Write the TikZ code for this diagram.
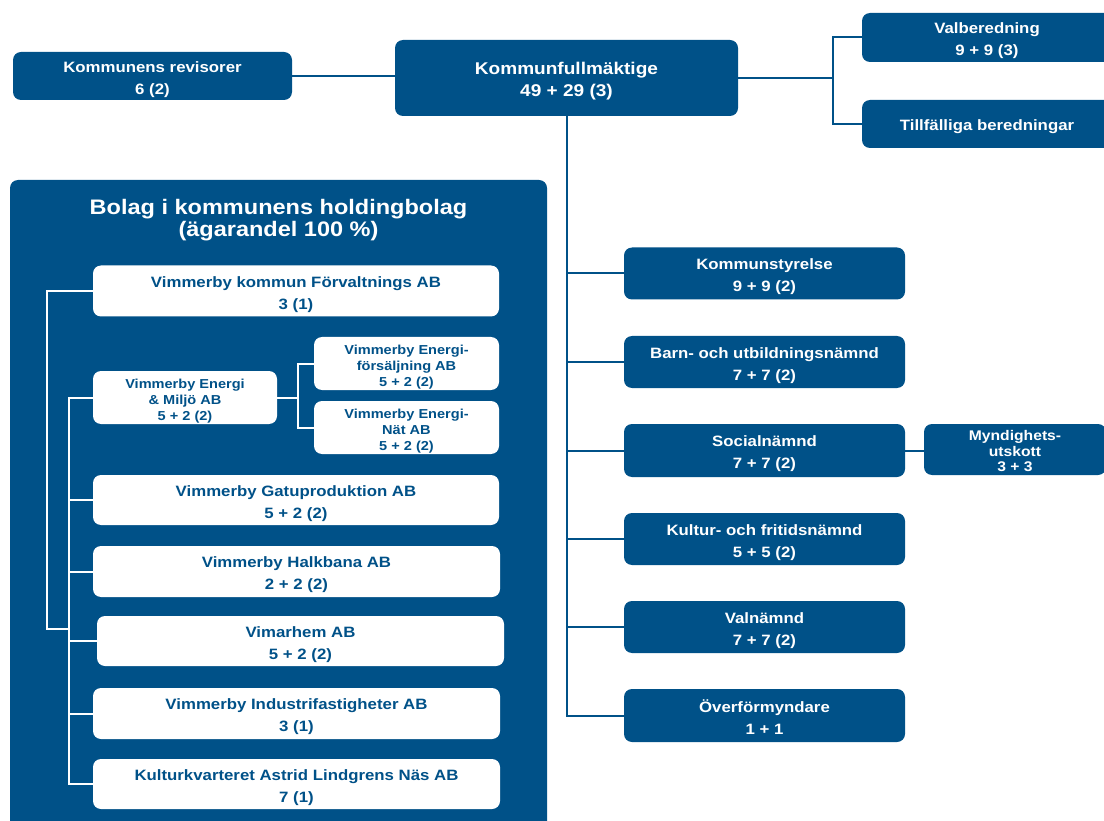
\documentclass[tikz,border=0pt]{standalone}
\usepackage{fontspec}
\setmainfont{Liberation Sans}[FakeStretch=1.12]
\definecolor{kblue}{RGB}{0,81,136}
\newcommand{\kst}[1]{\rule{0pt}{#1pt}}
\begin{document}
\begin{tikzpicture}[x=1pt,y=-1pt,
  box/.style={rectangle,rounded corners=8pt,inner sep=0pt,align=center,
    font=\bfseries\fontsize{15}{22}\selectfont},
  dbox/.style={box,fill=kblue,text=white},
  wbox/.style={box,fill=white,text=kblue},
  small/.style={font=\bfseries\fontsize{13}{16}\selectfont},
  conn/.style={draw=kblue,line width=2pt},
  wconn/.style={draw=white,line width=2pt}]
\useasboundingbox[fill=white] (0,0) rectangle (1104,821);
% top row
\node[dbox,minimum width=279pt,minimum height=48pt] (rev) at (152.5,76) {\kst{18}Kommunens revisorer\\6 (2)};
\node[dbox,minimum width=343pt,minimum height=76pt,font=\bfseries\fontsize{17}{22}\selectfont] (kf) at (566.5,78) {\kst{18.5}Kommunfullmäktige\\49 + 29 (3)};
\node[dbox,minimum width=250pt,minimum height=49pt] (val) at (987,37.5) {\kst{18}Valberedning\\9 + 9 (3)};
\node[dbox,minimum width=250pt,minimum height=48pt] (till) at (987,124) {\kst{17}Tillfälliga beredningar};
% right column
\node[dbox,minimum width=281pt,minimum height=52pt] (ks) at (764.5,273.5) {\kst{18}Kommunstyrelse\\9 + 9 (2)};
\node[dbox,minimum width=281pt,minimum height=52pt] (bun) at (764.5,362) {\kst{18}Barn- och utbildningsnämnd\\7 + 7 (2)};
\node[dbox,minimum width=281pt,minimum height=53pt] (soc) at (764.5,450.5) {\kst{18}Socialnämnd\\7 + 7 (2)};
\node[dbox,minimum width=182pt,minimum height=51pt,font=\bfseries\fontsize{14}{15.5}\selectfont] (mu) at (1015,449.5) {\kst{13.5}Myndighets-\\utskott\\3 + 3};
\node[dbox,minimum width=281pt,minimum height=52pt] (kfn) at (764.5,539) {\kst{18}Kultur- och fritidsnämnd\\5 + 5 (2)};
\node[dbox,minimum width=281pt,minimum height=52pt] (vn) at (764.5,627) {\kst{18}Valnämnd\\7 + 7 (2)};
\node[dbox,minimum width=281pt,minimum height=53pt] (of) at (764.5,715.5) {\kst{16}Överförmyndare\\1 + 1};
% connectors top
\draw[conn] (rev.east) -- (rev.east -| kf.west);
\coordinate (jr) at (833,78);
\draw[conn] (kf.east |- jr) -- (jr);
\draw[conn] (val.west) -| (jr) |- (till.west);
\draw[conn] (kf.south) -- (kf.south |- of.west) -- (of.west);
\foreach \n in {ks,bun,soc,kfn,vn} \draw[conn] (kf.south |- \n.west) -- (\n.west);
\draw[conn] (soc.east) -- (soc.east -| mu.west);
% holding box
\node[dbox,minimum width=537pt,minimum height=660pt] (holding) at (278.5,510) {};
\node[text=white,font=\bfseries\fontsize{21}{22}\selectfont,align=center,inner sep=0pt] (title) at (278.5,217.5) {\kst{20}Bolag i kommunens holdingbolag\\(ägarandel 100 \%)};
\node[wbox,minimum width=406pt,minimum height=51pt] (forv) at (296,291) {\kst{18}Vimmerby kommun Förvaltnings AB\\3 (1)};
\node[wbox,small,minimum width=184pt,minimum height=53pt] (emiljo) at (185,397.5) {\kst{16.5}Vimmerby Energi\\\& Miljö AB\\5 + 2 (2)};
\node[wbox,small,minimum width=185pt,minimum height=53pt] (efors) at (406.5,363.5) {\kst{16.5}Vimmerby Energi-\\försäljning AB\\5 + 2 (2)};
\node[wbox,small,minimum width=185pt,minimum height=53pt] (enat) at (406.5,427.5) {\kst{16.5}Vimmerby Energi-\\Nät AB\\5 + 2 (2)};
\node[wbox,minimum width=406pt,minimum height=50pt] (gatu) at (296,500) {\kst{18}Vimmerby Gatuproduktion AB\\5 + 2 (2)};
\node[wbox,minimum width=407pt,minimum height=51pt] (halk) at (296.5,571.5) {\kst{18}Vimmerby Halkbana AB\\2 + 2 (2)};
\node[wbox,minimum width=407pt,minimum height=50pt] (vimar) at (300.5,641) {\kst{18}Vimarhem AB\\5 + 2 (2)};
\node[wbox,minimum width=407pt,minimum height=51pt] (indu) at (296.5,713.5) {\kst{18}Vimmerby Industrifastigheter AB\\3 (1)};
\node[wbox,minimum width=407pt,minimum height=50pt] (kult) at (296.5,784) {\kst{18}Kulturkvarteret Astrid Lindgrens Näs AB\\7 (1)};
% holding connectors
\coordinate (ol) at (47,629);
\coordinate (il) at (69,629);
\draw[wconn] (forv.west) -| (ol) -- (il);
\draw[wconn] (emiljo.west) -- (emiljo.west -| il) -- (il |- kult.west) -- (kult.west);
\foreach \n in {gatu,halk,vimar,indu} \draw[wconn] (il |- \n.west) -- (\n.west);
\coordinate (ej) at (298,397.5);
\draw[wconn] (emiljo.east) -- (ej);
\draw[wconn] (efors.west) -| (ej) |- (enat.west);
\end{tikzpicture}
\end{document}
